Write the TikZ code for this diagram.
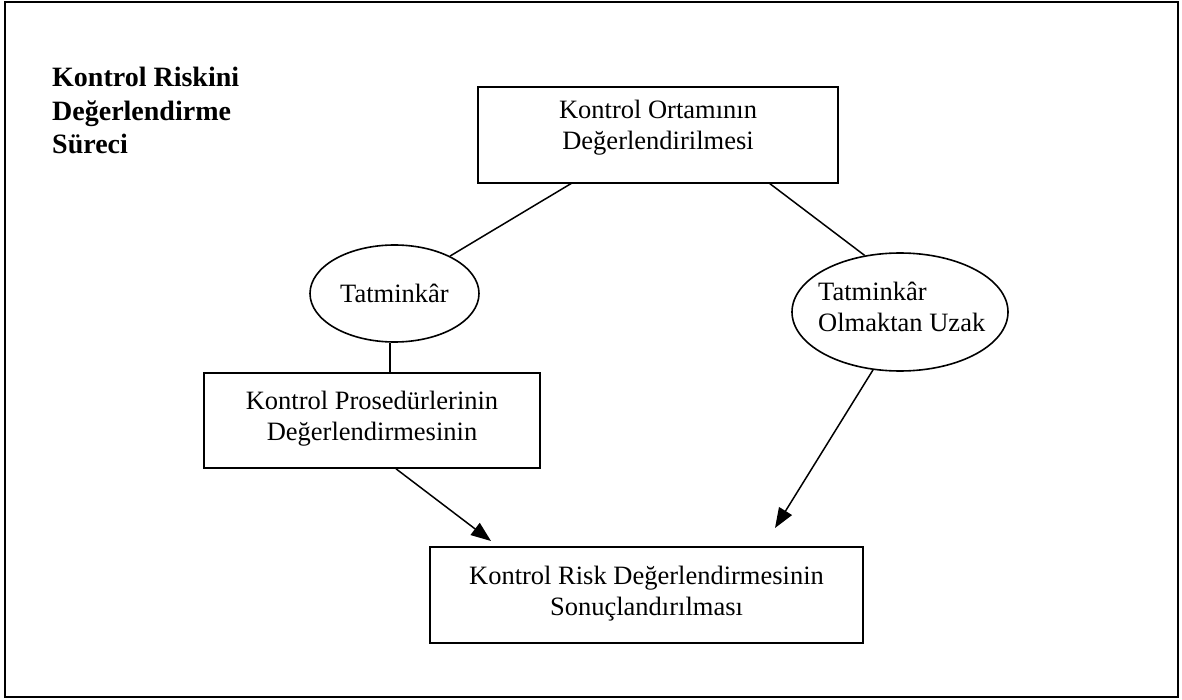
\documentclass[tikz,border=0pt]{standalone}
\usepackage{fontspec}
\setmainfont{Liberation Serif}
\usetikzlibrary{shapes.geometric,arrows.meta}
\begin{document}
\begin{tikzpicture}[x=1pt,y=-1pt,
  box/.style={draw,line width=1.6pt,rectangle,inner sep=0pt},
  oval/.style={draw,line width=1.6pt,ellipse,inner sep=0pt,font=\fontsize{26.5}{31.5}\selectfont},
  txt/.style={inner sep=0pt,align=center,font=\fontsize{26.5}{31}\selectfont},
  conn/.style={line width=1.5pt},
  arr/.style={line width=1.5pt,-{Triangle[length=20pt,width=15pt]}}]
\useasboundingbox (0,0) rectangle (1182,700);
\draw[line width=2pt] (5,2) rectangle (1178,697);
\node[anchor=base west,align=left,font=\bfseries\fontsize{28}{33.5}\selectfont,inner sep=0pt] (title) at (52,154) {Kontrol Riskini\\Değerlendirme\\Süreci};
% boxes
\node[box,minimum width=360pt,minimum height=96pt] (A) at (658,135) {};
\node[txt,anchor=base] (At) at (658,150) {Kontrol Ortamının\\Değerlendirilmesi};
\node[box,minimum width=336pt,minimum height=95pt] (B) at (372,420.5) {};
\node[txt,anchor=base] (Bt) at (372,440) {Kontrol Prosedürlerinin\\Değerlendirmesinin};
\node[box,minimum width=433pt,minimum height=96pt] (C) at (646.5,595) {};
\node[txt,anchor=base] (Ct) at (646.5,615) {Kontrol Risk Değerlendirmesinin\\Sonuçlandırılması};
% ellipses
\node[oval,minimum width=169pt,minimum height=97pt] (E1) at (394.5,293.5) {Tatminkâr};
\node[oval,minimum width=216pt,minimum height=118pt] (E2) at (900,312) {};
\node[txt,anchor=base west,align=left] (E2t) at (818,331) {Tatminkâr\\Olmaktan Uzak};
% connectors
\coordinate (a1) at (572,183);
\coordinate (a2) at (769,183);
\coordinate (t1) at (491,541);
\coordinate (t2) at (775,528);
\draw[conn] (a1) -- (E1.34);
\draw[conn] (a2) -- (E2.122);
\draw[conn] ([xshift=-4.5pt]E1.south) -- ([xshift=-4.5pt]E1.south |- B.north);
\draw[arr] ([xshift=24pt]B.south) -- (t1);
\draw[arr] (E2.245) -- (t2);
\end{tikzpicture}
\end{document}
